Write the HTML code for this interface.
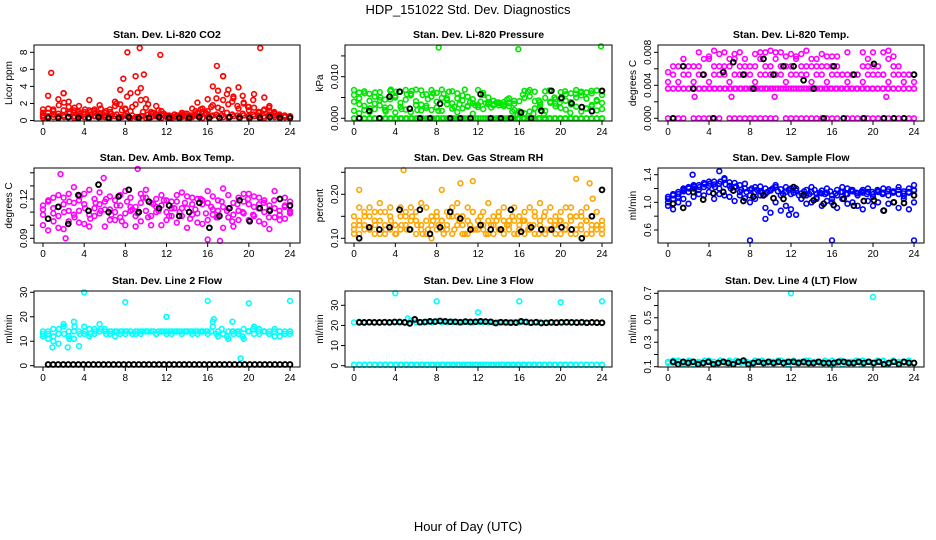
<!DOCTYPE html>
<html><head><meta charset="utf-8"><style>
html,body{margin:0;padding:0;background:#fff}
svg{display:block;font-family:"Liberation Sans",Arial,sans-serif}
</style></head><body>
<svg id="chart" width="936" height="540" viewBox="0 0 936 540" xmlns="http://www.w3.org/2000/svg">
<rect x="0" y="0" width="936" height="540" fill="#fff"/>
<text x="468" y="14" text-anchor="middle" font-size="13">HDP_151022  Std. Dev. Diagnostics</text>
<text x="468" y="531" text-anchor="middle" font-size="13">Hour of Day (UTC)</text>
<g id="plots"></g>
</svg>
<script>
const xTicks=[0,4,8,12,16,20,24];
const HALF=0.5, HOUR=1;

// Panel 1 CO2 (Licor ppm)
const co2Base=[0.3,0.5,0.4,0.3,0.6,0.4,0.3,0.5,0.4,0.3,0.5,0.6,0.4,0.3,0.5,0.4,0.6,0.3,0.4,0.5,0.3,0.4,0.5,0.3,0.4,0.3,0.5,0.4,0.3,0.4,0.5,0.3,0.4,0.6,0.5,0.4,0.3,0.5,0.4,0.6,0.3,0.5,0.4,0.3,0.5,0.4,0.3,0.4,0.3];
const co2Base2=[0.6,0.4,0.7,0.5,0.4,0.8,0.5,0.6,0.4,0.7,0.5,0.4,0.6,0.5,0.7,0.4,0.5,0.6,0.4,0.5,0.7,0.5,0.4,0.6,0.5,0.4,0.6,0.5,0.4,0.7,0.6,0.8,0.5,0.7,0.6,0.9,0.7,0.6,0.8,0.5,0.7,0.6,0.5,0.7,0.6,0.5,0.4,0.5];
const co2Mid=[0.5,2.9,1.3,2.5,3.2,2.2,1.2,1.7,1.0,2.4,1.3,1.8,0.9,1.3,2.2,3.6,1.4,3.2,5.2,3.8,2.5,0.8,1.7,0.7,0.5,0.5,0.6,0.9,0.8,1.4,2.1,1.0,2.5,4.0,3.5,5.2,3.6,2.8,3.9,2.0,1.6,3.1,1.0,2.7,1.7,0.9,0.5,0.4,0.4];
const co2Low=[1.3,0.9,1.1,0.8,1.2,1.6,0.9,1.0,0.7,1.2,1.1,0.8,0.6,1.0,1.7,1.9,1.3,1.1,1.9,2.4,1.5,1.0,0.7,1.1,0.6,0.5,0.6,0.7,0.5,0.6,0.9,1.4,1.1,1.8,1.5,2.4,1.9,2.6,1.4,2.1,1.2,1.5,0.9,1.3,1.1,0.8,0.6,0.5,0.4];
const co2Low2=[0.9,1.4,0.7,1.8,2.1,1.0,1.5,0.8,1.3,1.0,0.9,1.4,1.1,0.8,2.0,1.2,2.8,1.6,3.3,1.0,1.9,0.9,1.2,0.8,0.6,0.7,0.5,0.8,0.6,1.1,1.3,0.9,1.6,2.6,1.3,3.1,2.2,1.7,2.9,1.6,2.4,1.0,1.2,1.5,1.0,0.7,0.6,0.5];
const co2Black=[0.3,0.3,0.4,0.3,0.3,0.4,0.3,0.3,0.4,0.3,0.3,0.4,0.3,0.3,0.3,0.4,0.3,0.3,0.4,0.3,0.3,0.3,0.4,0.3,0.3];
const co2OutH=[0.8,2,7.8,8.2,9.4,9.8,11.4,16.9,17.5,21.1];
const co2OutV=[5.6,3.2,4.9,8.0,8.5,5.4,7.7,6.4,5.2,8.5];

// Panel 2 Pressure (x0.001 kPa)
const prZero=[0,0,0,0,0,0,0,0,0,0,0,0,0,0,0,0,0,0,0,0,0,0,0,0,0,0,0,0,0,0,0,0,0,0,0,0,0,0,0,0,0,0,0,0,0,0,0,0,0];
const prZero2=[0,0,0,0,0,0,0,0,0,0,0,0,0,0,0,0,0,0,0,0,0,0,0,0,0,0,0,0,0,0,0,0,0,0,0,0,0,0,0,0,0,0,0,0,0,0,0,0];
const prHigh=[6.8,6.2,6.5,5.9,5.2,6.3,4.5,6.6,5.0,6.4,6.8,5.5,6.9,6.7,5.8,6.8,6.1,6.9,4.8,6.5,6.0,5.5,5.2,4.6,6.8,6.1,5.0,4.2,3.6,3.9,4.8,3.5,4.1,6.6,6.8,6.4,3.2,6.5,6.6,4.6,6.3,5.8,6.0,6.8,6.4,6.2,6.0,6.7,6.5];
const prLow=[1.8,1.2,2.0,1.5,2.2,3.1,2.0,2.6,1.4,2.8,2.1,1.5,3.2,1.9,2.5,2.0,2.6,1.8,3.4,2.3,1.5,2.4,3.0,1.1,2.7,2.2,3.8,3.4,3.1,2.9,3.6,2.0,1.7,1.2,1.6,2.4,3.9,1.8,4.0,2.9,2.5,2.1,3.3,2.8,1.6,2.3,3.2,1.9,2.2];
const prMid=[4.0,4.8,3.0,4.2,3.5,4.4,2.6,4.6,5.4,3.7,4.5,5.9,4.1,3.3,3.0,5.2,4.0,4.9,4.4,3.6,4.8,4.3,2.8,3.6,3.2,5.6,3.4,3.1,3.8,3.3,2.9,4.2,1.3,4.9,5.3,4.1,2.5,4.9,3.7,3.5,4.6,4.2,3.9,5.0,5.5,4.7,2.9,4.1,3.7];
const prMid2=[5.6,3.4,6.0,2.4,6.2,5.0,1.6,6.9,6.4,2.2,5.8,6.6,2.0,5.6,4.6,6.0,1.8,5.9,6.4,2.8,3.4,6.9,3.9,3.1,4.0,3.6,2.6,3.8,3.4,4.5,1.6,0.9,5.7,6.4,1.1,4.3,0.8,6.7,5.0,3.8,6.5,1.3,5.9,6.2,2.4,6.6,4.4,5.6];
const prBlack=[0,1.8,0,5.2,6.4,2.3,0,0,3.5,0,0,0,5.8,0,0,0,1.4,0,1.8,6.6,4.9,3.6,2.7,1.7,6.6];
const prOutH=[8.2,15.9,23.9];
const prOutV=[17.0,16.6,17.3];

// Panel 3 Li-820 Temp (x0.001 C)
const tpZero=[0,0,0,0,null,0,0,0,0,0,0,null,0,0,0,0,0,0,0,0,0,0,null,0,0,0,0,0,0,0,0,0,0,0,null,0,0,0,0,0,0,0,0,0,0,0,0,0,0];
const tpBand=[3.6,3.6,3.6,3.6,3.6,3.6,3.6,3.6,3.6,3.6,3.6,3.6,3.6,3.6,3.6,3.6,3.6,3.6,3.6,3.6,3.6,3.6,3.6,3.6,3.6,3.6,3.6,3.6,3.6,3.6,3.6,3.6,3.6,3.6,3.6,3.6,3.6,3.6,3.6,3.6,3.6,3.6,3.6,3.6,3.6,3.6,3.6,3.6,3.6];
const tpBand2=[3.6,3.6,3.6,3.6,3.6,3.6,3.6,3.6,3.6,3.6,3.6,3.6,3.6,3.6,3.6,3.6,3.6,3.6,3.6,3.6,3.6,3.6,3.6,3.6,3.6,3.6,3.6,3.6,3.6,3.6,3.6,3.6,3.6,3.6,3.6,3.6,3.6,3.6,3.6,3.6,3.6,3.6,3.6,3.6,3.6,3.6,3.6,3.6];
const tpMid=[4.4,5.3,4.4,5.3,5.3,4.4,5.3,5.3,4.4,5.3,5.3,5.3,4.4,5.3,5.3,5.3,5.3,4.4,5.3,5.3,5.3,5.3,5.3,4.4,5.3,5.3,5.3,5.3,4.4,5.3,5.3,4.4,5.3,5.3,5.3,4.4,5.3,5.3,4.4,5.3,5.3,5.3,5.3,4.4,5.3,5.3,4.4,5.3,4.4];
const tpUp=[5.6,6.3,6.3,7.2,6.3,6.3,6.3,5.3,7.2,6.3,6.3,6.3,6.3,7.2,6.3,6.3,6.3,6.3,7.2,6.3,6.3,7.2,6.3,6.3,6.3,7.2,6.3,6.3,6.3,6.3,6.3,6.3,6.3,6.3,5.3,5.3,5.3,5.3,6.3,6.3,6.3,6.3,5.3,7.2,6.3,6.3,5.3,5.3,5.3];
const tpTop=[null,null,null,7.2,null,null,8.0,7.2,7.5,8.2,7.8,8.0,7.2,7.8,8.0,7.2,null,7.8,8.0,8.0,8.2,8.0,8.0,7.5,7.8,7.5,7.8,8.2,7.2,7.2,7.8,7.5,7.5,7.5,null,8.0,null,null,8.0,7.2,8.0,null,8.0,8.2,7.5,null,null,null,null];
const tpBlack=[0,6.3,3.6,5.3,0,5.6,6.8,5.3,3.6,7.2,5.3,6.3,6.3,4.6,3.6,0,6.3,0,5.3,0,6.6,0,0,0,5.3];
const tpOutH=[2.6,6.2,10.4,21.3];
const tpOutV=[2.6,2.6,2.6,2.6];

// Panel 4 Amb. Box Temp (C)
const ab1=[0.112,0.105,0.121,0.098,0.116,0.124,0.108,0.119,0.101,0.127,0.113,0.109,0.118,0.122,0.104,0.115,0.126,0.111,0.099,0.117,0.121,0.107,0.114,0.123,0.110,0.118,0.102,0.125,0.113,0.108,0.120,0.116,0.104,0.122,0.111,0.128,0.106,0.117,0.121,0.109,0.124,0.114,0.103,0.119,0.112,0.126,0.108,0.115,0.118];
const ab2=[0.100,0.118,0.109,0.123,0.097,0.111,0.129,0.102,0.116,0.108,0.120,0.125,0.099,0.112,0.119,0.106,0.109,0.121,0.114,0.103,0.127,0.117,0.110,0.100,0.119,0.107,0.123,0.113,0.098,0.121,0.109,0.101,0.117,0.112,0.106,0.114,0.123,0.099,0.111,0.118,0.104,0.122,0.116,0.110,0.097,0.113,0.120,0.105,0.110];
const ab3=[0.115,0.096,0.113,0.107,0.121,0.103,0.117,0.111,0.124,0.099,0.107,0.116,0.112,0.104,0.110,0.123,0.100,0.114,0.107,0.124,0.111,0.100,0.120,0.115,0.104,0.113,0.118,0.107,0.122,0.116,0.102,0.119,0.126,0.108,0.119,0.098,0.113,0.108,0.104,0.124,0.116,0.107,0.121,0.101,0.115,0.106,0.104,0.121,0.111];
const ab4=[0.108,0.119,0.103,0.114,0.110,0.118,0.106,0.122,0.113,0.105,0.117,0.111,0.120,0.108,0.115,0.103,0.118,0.112,0.109,0.121,0.106,0.116,0.111,0.119,0.107,0.113,0.110,0.117,0.105,0.112,0.120,0.109,0.114,0.106,0.118,0.111,0.103,0.116,0.110,0.120,0.108,0.113,0.117,0.106,0.119,0.111,0.114,0.109];
const abBlack=[0.105,0.114,0.101,0.123,0.111,0.131,0.110,0.122,0.127,0.110,0.118,0.113,0.115,0.107,0.110,0.117,0.098,0.107,0.113,0.119,0.103,0.113,0.111,0.120,0.115];
const abOutH=[1.7,5.9,9.2,2.2,16,17.2];
const abOutV=[0.139,0.136,0.143,0.090,0.089,0.088];

// Panel 5 Gas Stream RH (percent)
const rh1=[0.12,0.17,0.13,0.15,0.11,0.14,0.16,0.12,0.13,0.17,0.15,0.12,0.14,0.18,0.11,0.13,0.16,0.14,0.12,0.17,0.13,0.15,0.11,0.16,0.14,0.12,0.18,0.13,0.15,0.11,0.14,0.17,0.12,0.16,0.13,0.15,0.18,0.12,0.14,0.11,0.16,0.13,0.17,0.12,0.15,0.14,0.11,0.16,0.13];
const rh2=[0.15,0.11,0.16,0.12,0.14,0.18,0.11,0.15,0.13,0.12,0.16,0.14,0.11,0.13,0.17,0.15,0.12,0.14,0.16,0.11,0.15,0.13,0.17,0.12,0.14,0.16,0.11,0.15,0.12,0.17,0.13,0.11,0.15,0.14,0.17,0.11,0.13,0.16,0.12,0.15,0.11,0.17,0.14,0.12,0.16,0.11,0.15,0.13,0.14];
const rh3=[0.13,0.14,0.12,0.17,0.16,0.11,0.13,0.17,0.11,0.15,0.13,0.17,0.16,0.12,0.14,0.10,0.15,0.12,0.13,0.15,0.18,0.11,0.14,0.16,0.12,0.13,0.14,0.11,0.16,0.14,0.12,0.14,0.13,0.11,0.12,0.16,0.14,0.11,0.17,0.13,0.14,0.12,0.11,0.15,0.12,0.17,0.13,0.12,0.12];
const rh4=[0.11,0.13,0.15,0.12,0.13,0.16,0.12,0.14,0.11,0.13,0.12,0.15,0.13,0.11,0.12,0.14,0.13,0.11,0.15,0.12,0.14,0.11,0.13,0.12,0.15,0.11,0.13,0.14,0.12,0.13,0.15,0.11,0.14,0.12,0.13,0.11,0.15,0.12,0.13,0.14,0.12,0.15,0.11,0.13,0.14,0.12,0.13,0.11];
const rhBlack=[0.10,0.125,0.12,0.125,0.165,0.12,0.165,0.11,0.125,0.16,0.145,0.12,0.13,0.12,0.12,0.165,0.115,0.125,0.12,0.12,0.125,0.12,0.10,0.15,0.21];
const rhOutH=[0.5,3.3,4.8,8.5,10.3,11.5,21.5,22.8,23.1];
const rhOutV=[0.21,0.27,0.255,0.21,0.225,0.23,0.235,0.225,0.19];

// Panel 6 Sample Flow
const sf1=[1.05,1.10,1.15,1.18,1.22,1.20,1.25,1.28,1.24,1.30,1.27,1.33,1.29,1.22,1.25,1.20,1.18,1.22,1.16,1.20,1.17,1.22,1.19,1.15,1.20,1.17,1.13,1.18,1.15,1.12,1.17,1.14,1.10,1.18,1.15,1.20,1.16,1.13,1.18,1.15,1.12,1.17,1.14,1.19,1.15,1.12,1.16,1.20,1.18];
const sf2=[1.00,1.12,1.08,1.20,1.15,1.25,1.18,1.22,1.30,1.26,1.20,1.35,1.24,1.28,1.15,1.27,1.10,1.15,1.23,1.12,1.18,1.25,1.10,1.22,1.12,1.20,1.05,1.10,1.22,1.07,1.13,1.20,1.05,1.10,1.22,1.12,1.18,1.10,1.14,1.20,1.08,1.15,1.20,1.10,1.16,1.22,1.09,1.14,1.25];
const sf3=[0.95,0.90,1.00,1.05,0.98,1.08,1.12,1.10,1.15,1.05,1.12,1.10,1.08,1.02,1.10,1.06,1.00,1.05,1.10,0.92,0.85,1.00,0.88,0.95,0.90,0.82,1.05,0.98,1.00,1.05,0.95,1.02,1.00,0.92,1.05,0.98,1.00,0.95,0.90,1.02,0.95,1.00,0.88,0.98,1.00,0.92,1.05,0.90,1.00];
const sf4=[1.08,1.05,1.12,1.16,1.20,1.23,1.22,1.26,1.27,1.22,1.30,1.26,1.20,1.23,1.18,1.15,1.20,1.18,1.14,1.15,1.20,1.16,1.12,1.18,1.14,1.10,1.16,1.12,1.18,1.14,1.12,1.16,1.13,1.15,1.12,1.18,1.14,1.16,1.12,1.15,1.18,1.12,1.16,1.14,1.18,1.13,1.15,1.17];
const sfBlack=[0.98,0.92,1.15,1.04,1.13,1.15,1.17,1.02,1.08,1.10,1.06,1.05,1.22,1.10,1.03,0.98,0.96,1.05,0.95,1.02,1.03,0.88,1.00,0.99,1.10];
const sfOutH=[8,16,24,9.5,11.8,2.4,5];
const sfOutV=[0.45,0.45,0.45,0.76,0.82,1.40,1.45];

// Panel 7 Line 2 Flow
const l2a=[13,11,15,9,16,12,14,8,13,12,15,17,14,13,12,14,13,14,14,13,14,14,13,14,14,13,14,14,14,13,14,14,13,16,14,13,11,14,13,15,14,16,13,14,13,15,12,14,13];
const l2b=[12,14,10,13,17,14,11,14,16,15,13,14,15,14,14,13,14,14,13,14,14,14,13,14,13,14,14,13,14,14,13,14,14,18,12,13,14,13,14,11,14,13,15,14,14,12,14,13,14];
const l2c=[14,13,12,15,13,11,16,13,14,13,14,15,13,14,14,14,14,13,14,14,14,14,14,14,14,14,14,14,14,14,14,14,14,13,15,12,14,14,12,14,15,14,14,13,14,14,13,14];
const l2Black=[0.5,0.5,0.5,0.5,0.5,0.5,0.5,0.5,0.5,0.5,0.5,0.5,0.5,0.5,0.5,0.5,0.5,0.5,0.5,0.5,0.5,0.5,0.5,0.5,0.5,0.5,0.5,0.5,0.5,0.5,0.5,0.5,0.5,0.5,0.5,0.5,0.5,0.5,0.5,0.5,0.5,0.5,0.5,0.5,0.5,0.5,0.5,0.5,0.5];
const l2OutH=[4,8,12,16,20,24,19.2,0.9,2.4,16.6,18.4,3.0];
const l2OutV=[30,26,20,26.5,25.5,26.5,3,7.5,7.5,19,18,18];

// Panel 8 Line 3 Flow
const l3Zero=[0.5,0.5,0.5,0.5,0.5,0.5,0.5,0.5,0.5,0.5,0.5,0.5,0.5,0.5,0.5,0.5,0.5,0.5,0.5,0.5,0.5,0.5,0.5,0.5,0.5,0.5,0.5,0.5,0.5,0.5,0.5,0.5,0.5,0.5,0.5,0.5,0.5,0.5,0.5,0.5,0.5,0.5,0.5,0.5,0.5,0.5,0.5,0.5,0.5];
const l3Zero2=[0.5,0.5,0.5,0.5,0.5,0.5,0.5,0.5,0.5,0.5,0.5,0.5,0.5,0.5,0.5,0.5,0.5,0.5,0.5,0.5,0.5,0.5,0.5,0.5,0.5,0.5,0.5,0.5,0.5,0.5,0.5,0.5,0.5,0.5,0.5,0.5,0.5,0.5,0.5,0.5,0.5,0.5,0.5,0.5,0.5,0.5,0.5,0.5];
const l3a=[21.5,21.8,21.3,21.6,21.5,21.4,21.7,21.5,21.6,21.5,21.4,22.5,21.6,21.5,21.8,21.5,22.0,21.7,21.5,21.8,21.6,21.5,21.7,21.4,21.8,21.6,21.5,21.3,21.6,21.5,21.4,21.6,21.5,21.7,21.3,21.5,21.6,21.4,21.5,21.3,21.6,21.5,21.4,21.6,21.3,21.5,21.4,21.3,21.5];
const l3Black=[21.5,21.5,21.6,21.5,21.5,21.6,21.5,21.7,21.7,21.5,21.0,23.0,21.6,21.7,22.0,21.9,22.2,22.0,21.8,21.8,21.6,21.9,21.7,21.8,22.0,21.9,21.8,21.2,21.6,21.5,21.4,21.4,22.0,21.7,21.4,21.6,21.2,21.3,21.5,21.4,21.5,21.6,21.5,21.4,21.6,21.3,21.5,21.4,21.3];
const l3OutH=[4,8,12,16,20,24,5.2];
const l3OutV=[36,32,26.5,32,31.5,32,23.5];

// Panel 9 Line 4 (LT) Flow
const l4a=[0.14,0.13,0.15,0.13,0.14,0.12,0.14,0.13,0.15,0.14,0.13,0.14,0.15,0.13,0.14,0.14,0.13,0.15,0.14,0.13,0.14,0.13,0.15,0.14,0.14,0.13,0.14,0.15,0.13,0.14,0.13,0.14,0.15,0.13,0.12,0.14,0.13,0.14,0.15,0.14,0.13,0.14,0.15,0.13,0.14,0.14,0.13,0.14,0.13];
const l4b=[0.13,0.15,0.14,0.12,0.15,0.14,0.13,0.15,0.14,0.12,0.15,0.13,0.14,0.15,0.13,0.14,0.12,0.14,0.15,0.13,0.14,0.15,0.13,0.12,0.15,0.14,0.13,0.15,0.14,0.13,0.15,0.12,0.14,0.15,0.13,0.14,0.15,0.12,0.14,0.13,0.15,0.14,0.12,0.15,0.13,0.14,0.15,0.13];
const l4Black=[0.14,0.12,0.14,0.13,0.14,0.12,0.13,0.14,0.12,0.13,0.14,0.13,0.12,0.14,0.15,0.12,0.13,0.14,0.13,0.14,0.13,0.14,0.13,0.14,0.14,0.13,0.14,0.13,0.13,0.14,0.13,0.13,0.13,0.14,0.14,0.13,0.13,0.14,0.13,0.14,0.13,0.14,0.12,0.13,0.14,0.12,0.14,0.13,0.13];
const l4OutH=[4,12,20];
const l4OutV=[0.75,0.70,0.67];

const yTicks1=[0,2,4,6,8], yLabs1=['0','2','4','6','8'];
const yTicks2=[0,5,10,15], yLabs2=['0.000','','0.010',''];
const yTicks3=[0,2,4,6,8], yLabs3=['0.000','','0.004','','0.008'];
const yTicks4=[0.09,0.10,0.11,0.12,0.13,0.14], yLabs4=['0.09','','','0.12','',''];
const yTicks5=[0.10,0.15,0.20,0.25], yLabs5=['0.10','','0.20',''];
const yTicks6=[0.6,0.8,1.0,1.2,1.4], yLabs6=['0.6','','1.0','','1.4'];
const yTicks7=[0,10,20,30], yLabs7=['0','10','20','30'];
const yTicks8=[0,10,20,30], yLabs8=['0','10','20','30'];
const yTicks9=[0.1,0.2,0.3,0.4,0.5,0.6,0.7], yLabs9=['0.1','','0.3','','0.5','','0.7'];

const NS='http://www.w3.org/2000/svg';
const root=document.getElementById('plots');
function mk(tag,attrs,parent){const e=document.createElementNS(NS,tag);for(const k in attrs)e.setAttribute(k,attrs[k]);(parent||root).appendChild(e);return e;}

const panels=[
 {name:'co2',title:'Stan. Dev. Li-820 CO2',yl:'Licor ppm',box:[34,45,300,121],xp:[43,290],ya:[0,120.5],yb:[8,52.3],yt:yTicks1,ylab:yLabs1,col:'#ff0000',
  dense:[co2Base,co2Base2,co2Low,co2Low2,co2Mid],black:co2Black,oh:co2OutH,ov:co2OutV},
 {name:'pressure',title:'Stan. Dev. Li-820 Pressure',yl:'kPa',box:[345,45,612,121],xp:[354,602],ya:[0,118.3],yb:[10,76.7],yt:yTicks2,ylab:yLabs2,col:'#00e600',
  dense:[prZero,prZero2,prLow,prMid,prMid2,prHigh],black:prBlack,oh:prOutH,ov:prOutV},
 {name:'li820-temp',title:'Stan. Dev. Li-820 Temp.',yl:'degrees C',box:[658,45,924,121],xp:[668,914],ya:[0,118.3],yb:[8,52.3],yt:yTicks3,ylab:yLabs3,col:'#ff00ff',
  dense:[tpZero,tpBand,tpBand2,tpMid,tpUp,tpTop],black:tpBlack,oh:tpOutH,ov:tpOutV},
 {name:'amb-box-temp',title:'Stan. Dev. Amb. Box Temp.',yl:'degrees C',box:[34,168,300,243],xp:[43,290],ya:[0.09,238.3],yb:[0.12,199],yt:yTicks4,ylab:yLabs4,col:'#ff00ff',
  dense:[ab1,ab2,ab3,ab4],black:abBlack,oh:abOutH,ov:abOutV},
 {name:'gas-stream-rh',title:'Stan. Dev. Gas Stream RH',yl:'percent',box:[345,168,612,243],xp:[354,602],ya:[0.10,238.3],yb:[0.20,194.3],yt:yTicks5,ylab:yLabs5,col:'#ffa500',
  dense:[rh1,rh2,rh3,rh4],black:rhBlack,oh:rhOutH,ov:rhOutV},
 {name:'sample-flow',title:'Stan. Dev. Sample Flow',yl:'ml/min',box:[658,168,924,243],xp:[668,914],ya:[0.6,230],yb:[1.4,174.7],yt:yTicks6,ylab:yLabs6,col:'#0000ff',
  dense:[sf3,sf2,sf1,sf4],black:sfBlack,oh:sfOutH,ov:sfOutV},
 {name:'line2-flow',title:'Stan. Dev. Line 2 Flow',yl:'ml/min',box:[34,291,300,367],xp:[43,290],ya:[0,365.7],yb:[30,292.3],yt:yTicks7,ylab:yLabs7,col:'#00ffff',
  dense:[l2a,l2b,l2c],black:l2Black,oh:l2OutH,ov:l2OutV},
 {name:'line3-flow',title:'Stan. Dev. Line 3 Flow',yl:'ml/min',box:[345,291,612,367],xp:[354,602],ya:[0,365.7],yb:[30,305.3],yt:yTicks8,ylab:yLabs8,col:'#00ffff',
  dense:[l3Zero,l3Zero2,l3a],black:l3Black,oh:l3OutH,ov:l3OutV},
 {name:'line4-flow',title:'Stan. Dev. Line 4 (LT) Flow',yl:'ml/min',box:[658,291,924,367],xp:[668,914],ya:[0.1,366.7],yb:[0.7,293.3],yt:yTicks9,ylab:yLabs9,col:'#00ffff',
  dense:[l4a,l4b],black:l4Black,oh:l4OutH,ov:l4OutV}
];

panels.forEach(p=>{
  const g=mk('g',{});
  
  
  const [bx0,by0,bx1,by1]=p.box;
  const X=h=>p.xp[0]+h/24*(p.xp[1]-p.xp[0]);
  const Y=v=>p.ya[1]+(v-p.ya[0])/(p.yb[0]-p.ya[0])*(p.yb[1]-p.ya[1]);
  const t=mk('text',{x:(bx0+bx1)/2,y:by0-7,'text-anchor':'middle','font-size':'10.5','font-weight':'bold'},g);
  t.textContent=p.title;
  
  
  const pts=mk('g',{fill:'none','stroke-width':'1.6'},g);
  
  
  function dot(h,v,c,w){
    if(v===null||v===undefined)return;
    const cy=Y(v); if(cy<by0-3||cy>by1+3)return;
    const e=mk('circle',{cx:X(h).toFixed(1),cy:cy.toFixed(1),r:'2.4',stroke:c},pts);
    if(w)e.setAttribute('stroke-width',w);
    
    
  }
  p.dense.forEach(arr=>{const st=24/(arr.length-1);arr.forEach((v,i)=>dot(i*st,v,p.col));});
  p.oh.forEach((h,i)=>dot(h,p.ov[i],p.col));
  const bst=24/(p.black.length-1);
  p.black.forEach((v,i)=>dot(0.5+i*bst*23.5/24,v,'#000','1.9'));
  const b=mk('rect',{x:bx0,y:by0,width:bx1-bx0,height:by1-by0,fill:'none',stroke:'#000','stroke-width':'1'},g);
  
  
  const xa=mk('g',{stroke:'#000','stroke-width':'1'},g);
  
  
  mk('line',{x1:X(0),y1:by1,x2:X(24),y2:by1},xa);
  xTicks.forEach(h=>{
    mk('line',{x1:X(h),y1:by1,x2:X(h),y2:by1+4},xa);
    const tl=mk('text',{x:X(h),y:by1+14,'text-anchor':'middle','font-size':'10',stroke:'none',fill:'#000'},xa);
    tl.textContent=String(h);
    
    
  });
  const ya=mk('g',{stroke:'#000','stroke-width':'1'},g);
  
  
  mk('line',{x1:bx0,y1:Y(p.yt[0]),x2:bx0,y2:Y(p.yt[p.yt.length-1])},ya);
  p.yt.forEach((v,i)=>{
    const yy=Y(v);
    mk('line',{x1:bx0-4,y1:yy,x2:bx0,y2:yy},ya);
    if(p.ylab[i]){
      const tl=mk('text',{x:bx0-7,y:yy,'text-anchor':'middle','font-size':'10',stroke:'none',fill:'#000',transform:`rotate(-90 ${bx0-7} ${yy})`},ya);
      tl.textContent=p.ylab[i];
      
      
    }
  });
  const cy=(by0+by1)/2;
  const yl=mk('text',{x:bx0-22,y:cy,'text-anchor':'middle','font-size':'10',transform:`rotate(-90 ${bx0-22} ${cy})`},g);
  yl.textContent=p.yl;
  
  
});
</script>
</body></html>
